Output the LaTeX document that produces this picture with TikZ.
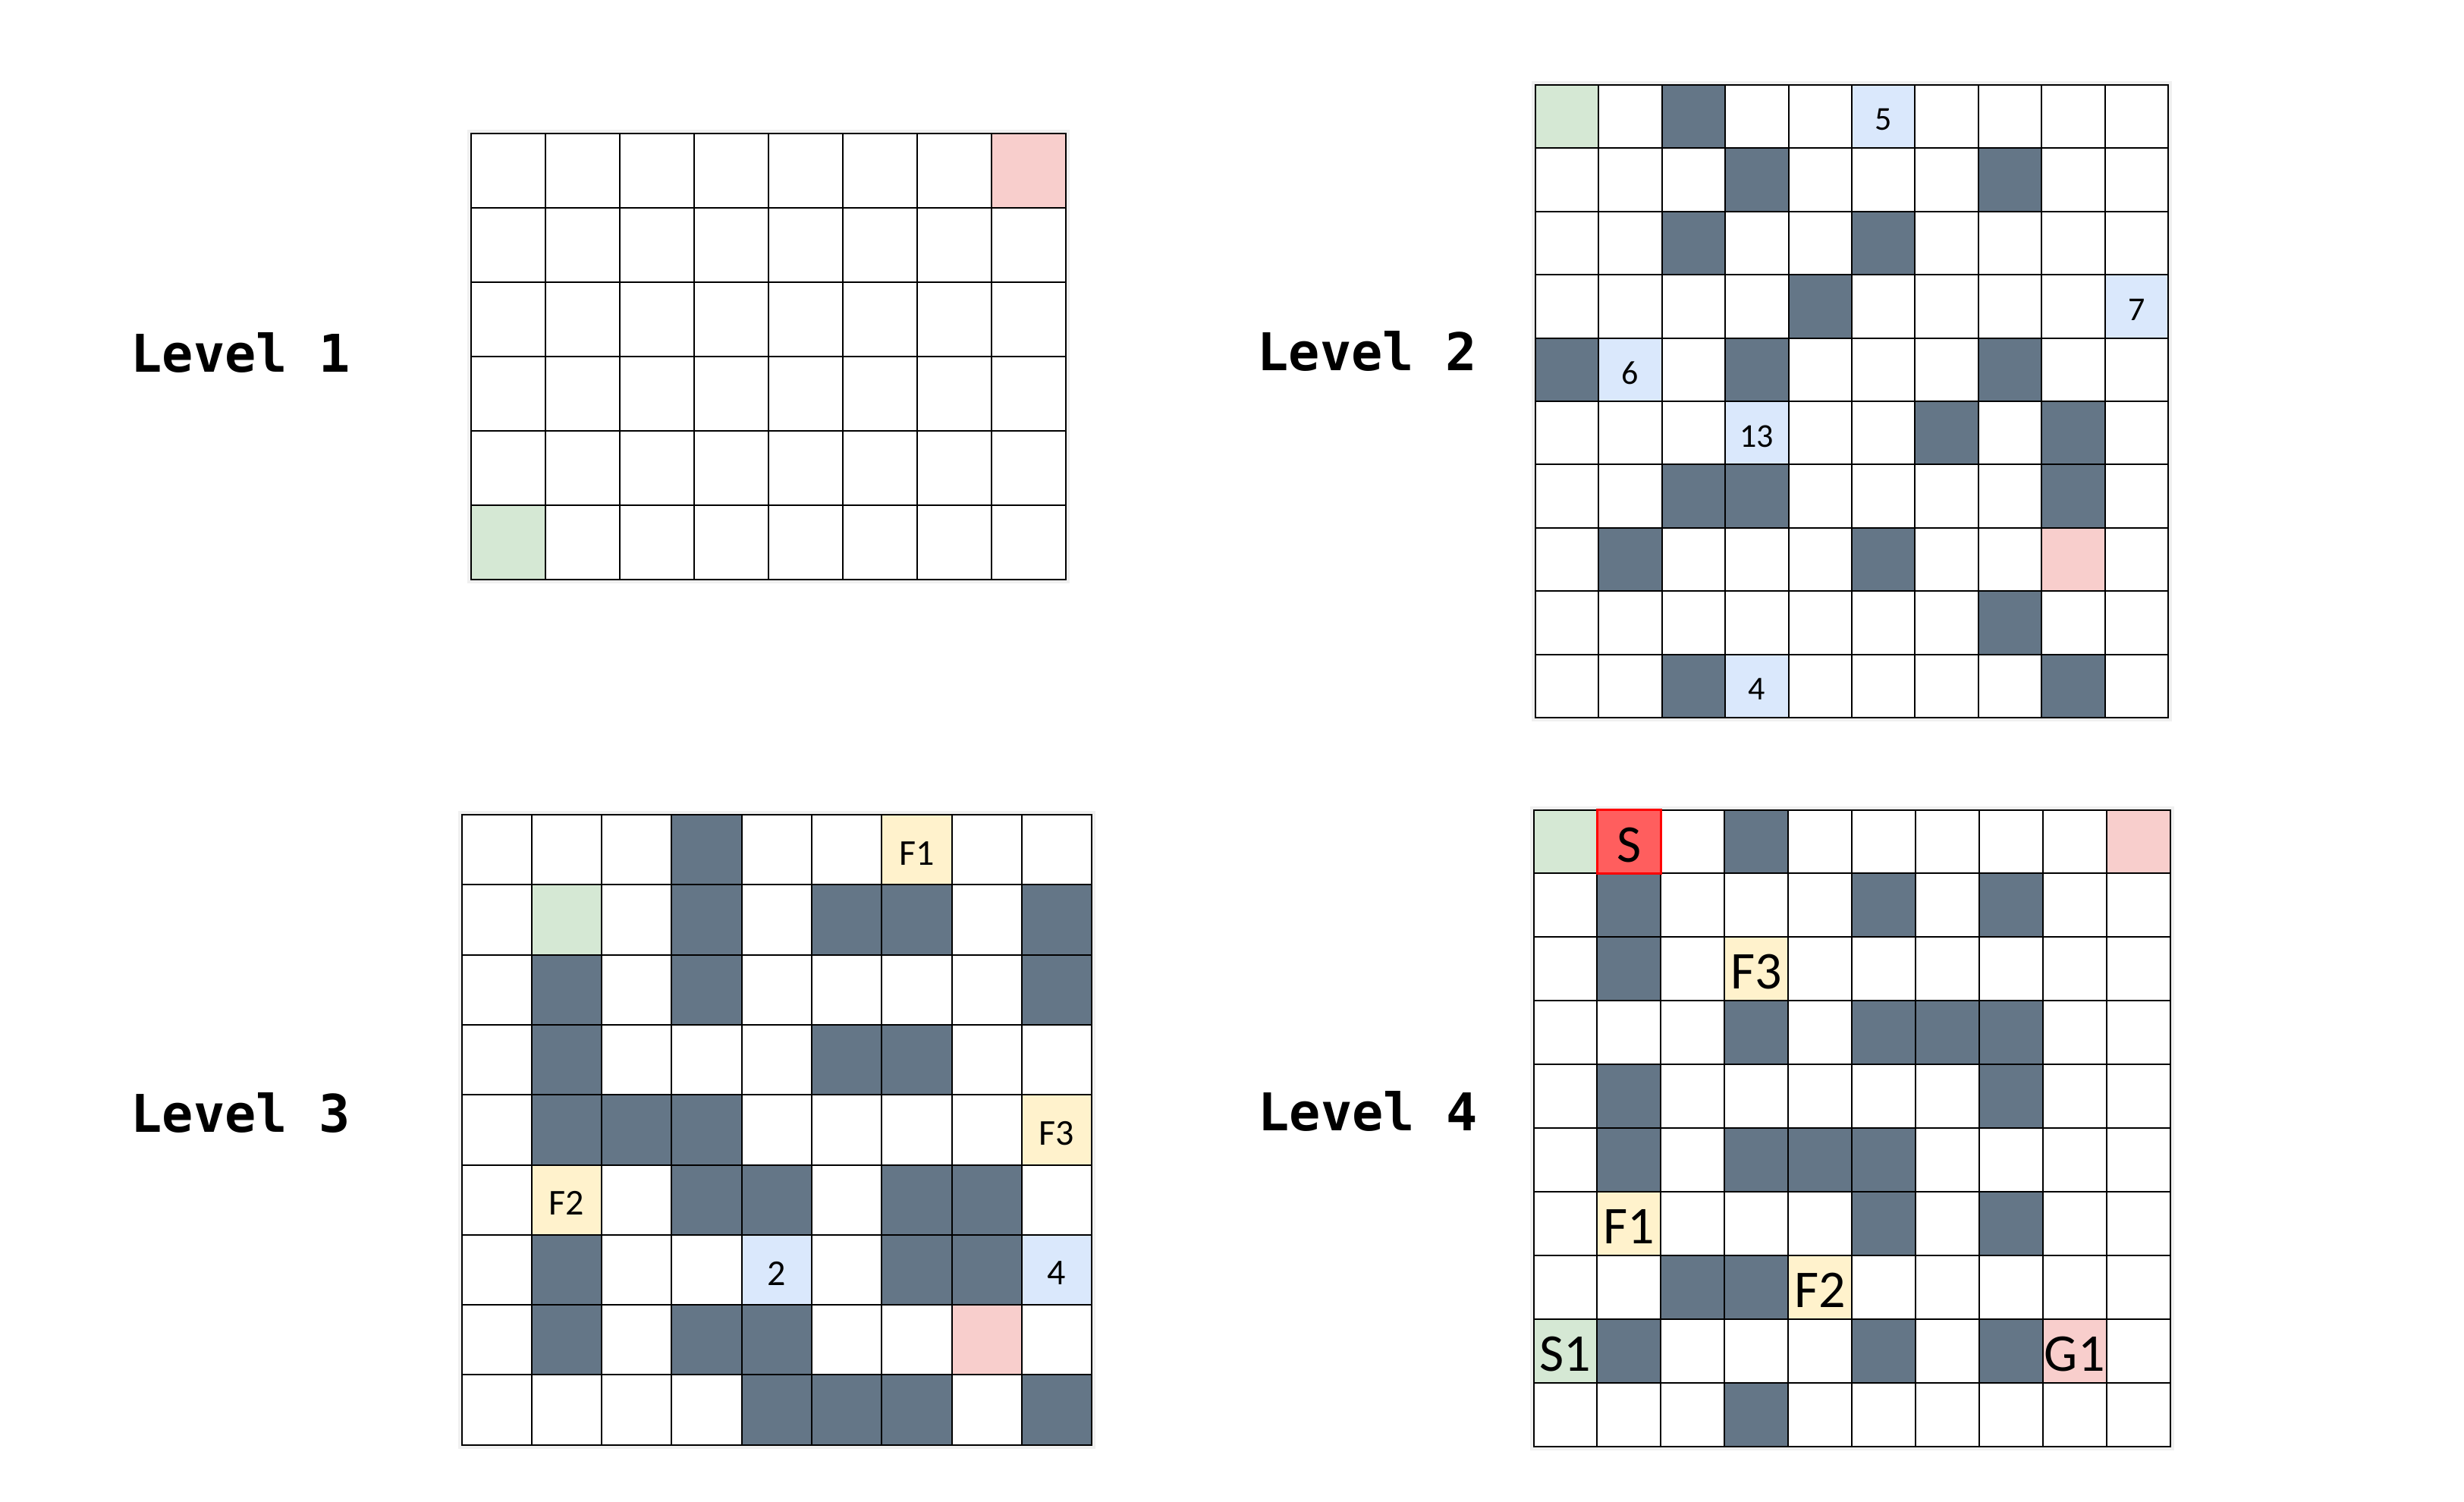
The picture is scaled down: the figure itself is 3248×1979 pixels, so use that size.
\documentclass[tikz,border=0pt]{standalone}
\usepackage{fontspec}
\setmainfont{Carlito}
\newfontfamily\lvlfont{DejaVu Sans Mono}
\definecolor{dk}{HTML}{647687}
\definecolor{gn}{HTML}{D5E8D4}
\definecolor{pk}{HTML}{F8CECC}
\definecolor{bl}{HTML}{DAE8FC}
\definecolor{yl}{HTML}{FFF2CC}
\definecolor{rd}{HTML}{FF5E5E}
\definecolor{fr}{HTML}{F0F0F0}
\newcommand\mylines[3]{%
  \foreach \i in {0,...,#1} \draw[line width=#3] (\i,0) -- (\i,#2);
  \foreach \j in {0,...,#2} \draw[line width=#3] (0,\j) -- (#1,\j);
  \draw[line width=#3, line join=miter] (0,0) rectangle (#1,#2);}
\newcommand\myframe[2]{%
  \fill[fr] ([shift={(-5pt,5pt)}]0,0) rectangle ([shift={(5pt,-5pt)}]#1,#2);
  \fill[white] (0,0) rectangle (#1,#2);}
\newcommand\fc[3]{\fill[#3] (#1,#2) rectangle ++(1,1);}
\tikzset{
  lvl/.style={font=\lvlfont\bfseries\fontsize{68.5}{80}\selectfont, anchor=base, inner sep=0pt},
  ct/.style={anchor=center, inner sep=0pt, text=black},
}
\begin{document}
\begin{tikzpicture}[x=1pt, y=-1pt]
\useasboundingbox (0,0) rectangle (3248,1979);
\fill[white] (0,0) rectangle (3248,1979);

% labels
\node[lvl] (lab1) at (317,490) {Level 1};
\node[lvl] (lab2) at (1802,488) {Level 2};
\node[lvl] (lab3) at (317,1492) {Level 3};
\node[lvl] (lab4) at (1803,1490) {Level 4};

% Level 1
\begin{scope}[shift={(621,176)}, x=98pt, y=-98pt]
  \myframe{8}{6}
  \fc{7}{0}{pk}
  \fc{0}{5}{gn}
  \mylines{8}{6}{2.8pt}
\end{scope}

% Level 2
\begin{scope}[shift={(2024,112)}, x=83.4pt, y=-83.4pt]
  \myframe{10}{10}
  \fc{0}{0}{gn}
  \fc{8}{7}{pk}
  \foreach \c/\r in {5/0,9/3,1/4,3/5,3/9} \fc{\c}{\r}{bl};
  \foreach \c/\r in {2/0,3/1,7/1,2/2,5/2,4/3,0/4,3/4,7/4,6/5,8/5,2/6,3/6,8/6,1/7,5/7,7/8,2/9,8/9} \fc{\c}{\r}{dk};
  \mylines{10}{10}{2pt}
  \tikzset{ct/.append style={font=\fontsize{44}{50}\selectfont}}
  \node[ct] (b5) at (5.5,0.55) {5};
  \node[ct] (b7) at (9.5,3.55) {7};
  \node[ct] (b6) at (1.5,4.55) {6};
  \node[ct] (b13) at (3.5,5.55) {13};
  \node[ct] (b4) at (3.5,9.55) {4};
\end{scope}

% Level 3
\begin{scope}[shift={(608.5,1074)}, x=92.3pt, y=-92.3pt]
  \myframe{9}{9}
  \fc{1}{1}{gn}
  \fc{7}{7}{pk}
  \foreach \c/\r in {6/0,8/4,1/5} \fc{\c}{\r}{yl};
  \foreach \c/\r in {4/6,8/6} \fc{\c}{\r}{bl};
  \foreach \c/\r in {3/0,3/1,5/1,6/1,8/1,1/2,3/2,8/2,1/3,5/3,6/3,1/4,2/4,3/4,3/5,4/5,6/5,7/5,1/6,6/6,7/6,1/7,3/7,4/7,4/8,5/8,6/8,8/8} \fc{\c}{\r}{dk};
  \mylines{9}{9}{2pt}
  \tikzset{ct/.append style={font=\fontsize{48}{54}\selectfont}}
  \node[ct] (cF1) at (6.5,0.55) {F1};
  \node[ct] (cF3) at (8.5,4.55) {F3};
  \node[ct] (cF2) at (1.5,5.55) {F2};
  \node[ct] (c2) at (4.5,6.55) {2};
  \node[ct] (c4) at (8.5,6.55) {4};
\end{scope}

% Level 4
\begin{scope}[shift={(2021.5,1067.5)}, x=83.9pt, y=-83.9pt]
  \myframe{10}{10}
  \fc{0}{0}{gn}
  \fc{0}{8}{gn}
  \fc{9}{0}{pk}
  \fc{8}{8}{pk}
  \fc{1}{0}{rd}
  \foreach \c/\r in {3/2,1/6,4/7} \fc{\c}{\r}{yl};
  \foreach \c/\r in {3/0,1/1,5/1,7/1,1/2,3/3,5/3,6/3,7/3,1/4,7/4,1/5,3/5,4/5,5/5,5/6,7/6,2/7,3/7,1/8,5/8,7/8,3/9} \fc{\c}{\r}{dk};
  \mylines{10}{10}{2pt}
  \draw[red, line width=3.5pt] (1,0) rectangle (2,1);
  \tikzset{ct/.append style={font=\fontsize{70}{78}\selectfont}}
  \node[ct] (dS) at (1.5,0.55) {S};
  \node[ct] (dF3) at (3.5,2.55) {F3};
  \node[ct] (dF1) at (1.5,6.55) {F1};
  \node[ct] (dF2) at (4.5,7.55) {F2};
  \node[ct] (dS1) at (0.5,8.55) {S1};
  \node[ct] (dG1) at (8.5,8.55) {G1};
\end{scope}
\end{tikzpicture}
\end{document}
